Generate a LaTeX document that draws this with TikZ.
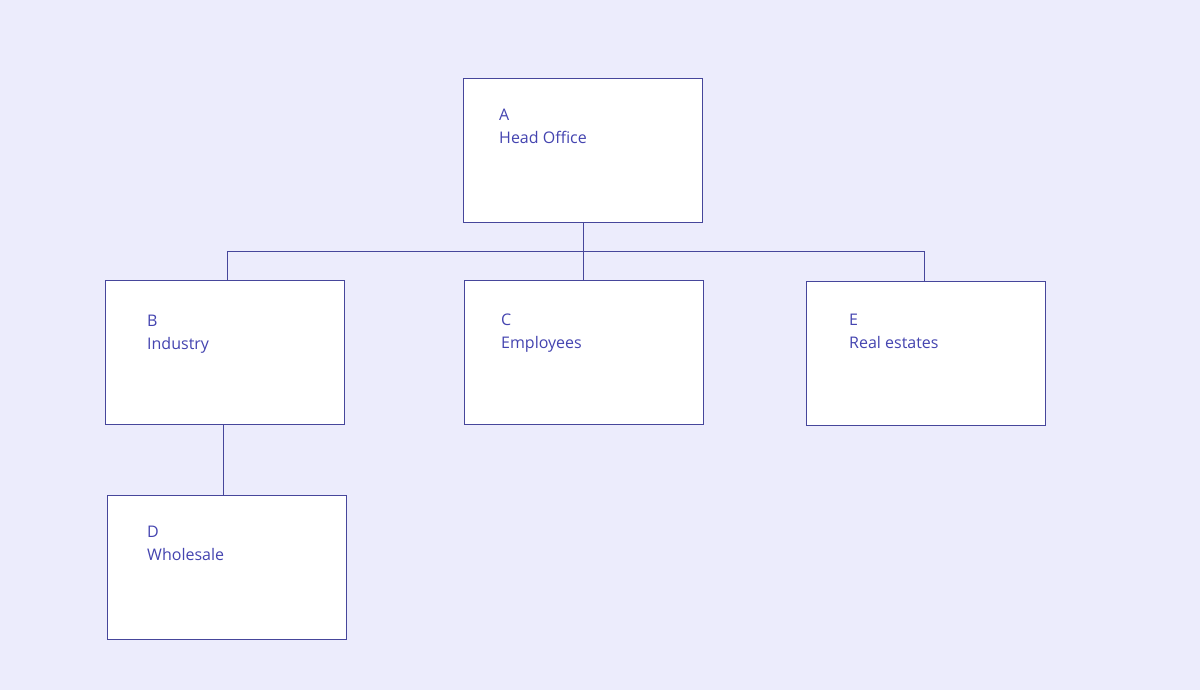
\documentclass[tikz,border=0pt]{standalone}
\usepackage{fontspec}
\setmainfont{Open Sans}
\usetikzlibrary{calc}
\definecolor{bg}{RGB}{236,236,252}
\definecolor{edge}{RGB}{70,70,155}
\definecolor{txt}{RGB}{68,68,176}
\tikzset{
  orgbox/.style={draw=edge, fill=white, line width=1pt, minimum width=239pt, minimum height=144pt, inner sep=0pt, anchor=north west},
  lbl/.style={text=txt, font=\fontsize{16}{23}\selectfont, align=left, inner sep=0pt, anchor=north west},
  link/.style={draw=edge, line width=1pt}
}
\begin{document}
\begin{tikzpicture}[x=1pt,y=-1pt]
\useasboundingbox[fill=bg] (0,0) rectangle (1200,690);
\node[orgbox] (A) at (463,78) {};
\node[orgbox] (B) at (105,280) {};
\node[orgbox] (C) at (464,280) {};
\node[orgbox] (E) at (806,281) {};
\node[orgbox] (D) at (107,495) {};
\node[lbl] (tA) at (499,109) {A\\Head Office};
\node[lbl] (tB) at (147,315) {B\\Industry};
\node[lbl] (tC) at (501,314) {C\\Employees};
\node[lbl] (tE) at (849,314) {E\\Real estates};
\node[lbl] (tD) at (147,526) {D\\Wholesale};
\coordinate (bus) at (583,251);
\draw[link] (A.south -| bus) -- (bus);
\draw[link] (bus) -| (227,280) coordinate (bB);
\draw[link] (bus) -| (924,281) coordinate (bE);
\draw[link] (bus) -- (C.north -| bus);
\draw[link] (B.south -| 223,0) -- (D.north -| 223,0);
\end{tikzpicture}
\end{document}
